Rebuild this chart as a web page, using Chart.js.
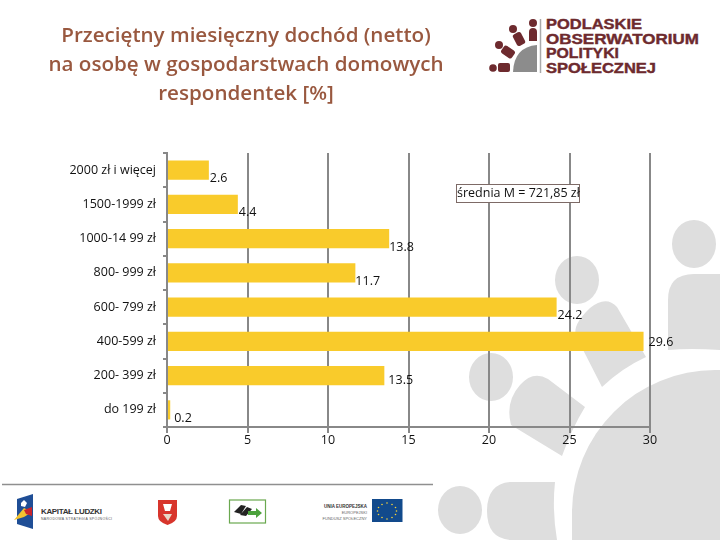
<!DOCTYPE html>
<html lang="pl">
<head>
<meta charset="utf-8">
<title>Przeciętny miesięczny dochód</title>
<script src="https://cdn.jsdelivr.net/npm/chart.js@4"></script>
<style>
  html, body { margin: 0; padding: 0; background: #fff; }
  #page { position: relative; width: 720px; height: 540px; overflow: hidden; font-family: "Open Sans", sans-serif; }
  #decor, #wrap { position: absolute; left: 0; top: 0; width: 720px; height: 540px; }
  #title { position: absolute; left: 16px; top: 20px; width: 460px; text-align: center; font-family: "Open Sans", sans-serif;
           font-size: 20.6px; font-weight: 600; line-height: 29px; color: #99583f; white-space: nowrap; }
  #note { position: absolute; left: 456px; top: 184px; width: 122px; height: 17px; border: 1px solid #7d6a66; background: #fff;
          font-size: 12.5px; line-height: 16px; text-align: center; color: #111; white-space: nowrap; }
</style>
</head>
<body>
<div id="page">
  <svg id="decor" viewBox="0 0 720 540" xmlns="http://www.w3.org/2000/svg">
    <!-- znak wodny -->
    <g fill="#dedede">
      <ellipse cx="577" cy="280" rx="22" ry="24"/>
      <ellipse cx="694" cy="244" rx="22" ry="24"/>
      <ellipse cx="491" cy="377" rx="22" ry="24"/>
      <ellipse cx="460" cy="510" rx="22" ry="24"/>
      <circle cx="715" cy="513" r="143"/>
      <rect x="572" y="513" width="148" height="27"/>
      <path d="M668 350 V300 Q668 274 694 274 H720 V350 Q690 348 668 350Z"/>
      <path d="M576 336 Q572 325 590 308 Q606 295 617 307 L646 357 Q622 368 602 387Z"/>
      <path d="M511 425 Q505 402 520 385 Q533 370 548 379 L585 407 Q572 428 562 456Z"/>
      <path d="M555 482 H510 Q487 484 487 511 Q487 538 510 540 H557 Q552 510 555 482Z"/>
    </g>
    <!-- logo obserwatorium -->
    <g fill="#6d2a2e">
      <circle cx="533" cy="23" r="4"/>
      <path d="M529 41 V32 Q529 28 533 28 Q537 28 537 32 V41Z"/>
      <circle cx="513" cy="29" r="4"/>
      <rect x="514.5" y="32.5" width="9" height="13" rx="2.5" transform="rotate(-28 519 39)"/>
      <circle cx="499" cy="45" r="4"/>
      <rect x="503.5" y="45.5" width="9" height="13" rx="2.5" transform="rotate(-55 508 52)"/>
      <circle cx="493" cy="68" r="3.8"/>
      <rect x="498" y="63" width="12" height="9" rx="2"/>
    </g>
    <path d="M513 72 Q514 47 537 45 V72Z" fill="#8c8c8c"/>
    <line x1="540.5" y1="19" x2="540.5" y2="73" stroke="#aaa" stroke-width="1.5"/>
    <g fill="#6d2a2e" font-family="'Liberation Sans'" font-weight="700" font-size="14" stroke="#6d2a2e" stroke-width=".4">
      <text x="546" y="29" textLength="96" lengthAdjust="spacingAndGlyphs">PODLASKIE</text>
      <text x="546" y="44" textLength="153" lengthAdjust="spacingAndGlyphs">OBSERWATORIUM</text>
      <text x="546" y="58" textLength="73" lengthAdjust="spacingAndGlyphs">POLITYKI</text>
      <text x="546" y="73" textLength="110" lengthAdjust="spacingAndGlyphs">SPOŁECZNEJ</text>
    </g>
    <!-- stopka -->
    <line x1="2" y1="484.5" x2="433" y2="484.5" stroke="#8f8f8f" stroke-width="1.5"/>
    <path d="M17 499 L33 494 V529 L17 524Z" fill="#1f4e96"/>
    <path d="M14 520 L24 508 L32 512 L24 517 Z" fill="#f2c230"/>
    <path d="M24 510 L32 507 V516 L26 514Z" fill="#c8252c"/>
    <path d="M21 503 L24 500 L27 503 L25 507 L21 506Z" fill="#fff"/>
    <text x="41" y="514" font-family="'Liberation Sans'" font-size="8" font-weight="700" fill="#333" textLength="61">KAPITAŁ LUDZKI</text>
    <text x="41" y="520" font-family="'Liberation Sans'" font-size="3.5" fill="#555" textLength="71">NARODOWA STRATEGIA SPÓJNOŚCI</text>
    <path d="M158 500 H177 V516 Q177 522 167.5 525 Q158 522 158 516Z" fill="#d8352c"/>
    <path d="M163 504 H172 L170 511 H165Z" fill="#fff"/>
    <path d="M163 514 H172 L168 521Z" fill="#e8d8c8"/>
    <rect x="229.5" y="500" width="36" height="23" fill="#fff" stroke="#6aa84f" stroke-width="1.2"/>
    <path d="M234 512 L241 505 L246 506 L241 514Z M240 515 L247 507 L252 509 L246 516Z" fill="#222"/>
    <path d="M248 511 H256 V508 L262 513 L256 518 V515 H248Z" fill="#4ca23c"/>
    <g font-family="'Liberation Sans'" text-anchor="end">
      <text x="367" y="508" font-size="4.5" font-weight="700" fill="#333">UNIA EUROPEJSKA</text>
      <text x="367" y="514" font-size="4" fill="#666">EUROPEJSKI</text>
      <text x="367" y="520" font-size="4" fill="#666">FUNDUSZ SPOŁECZNY</text>
    </g>
    <rect x="372" y="499" width="30.5" height="23" fill="#124a8c"/>
    <g fill="#f5d33c">
      <circle cx="387" cy="503" r=".8"/><circle cx="392" cy="504.5" r=".8"/><circle cx="395.5" cy="507.5" r=".8"/>
      <circle cx="396.5" cy="511" r=".8"/><circle cx="395.5" cy="514.5" r=".8"/><circle cx="392" cy="517.5" r=".8"/>
      <circle cx="387" cy="519" r=".8"/><circle cx="382" cy="517.5" r=".8"/><circle cx="378.5" cy="514.5" r=".8"/>
      <circle cx="377.5" cy="511" r=".8"/><circle cx="378.5" cy="507.5" r=".8"/><circle cx="382" cy="504.5" r=".8"/>
    </g>
  </svg>
  <div id="wrap"><canvas id="chartDochod" width="720" height="540"></canvas></div>
  <div id="title">Przeciętny miesięczny dochód (netto)<br>na osobę w gospodarstwach domowych<br>respondentek [%]</div>
  <div id="note">średnia M = 721,85 zł</div>
</div>
<script>
// dane
const categories = ['2000 zł i więcej', '1500-1999 zł', '1000-14 99 zł', '800- 999 zł', '600- 799 zł', '400-599 zł', '200- 399 zł', 'do 199 zł'];
const values = [2.6, 4.4, 13.8, 11.7, 24.2, 29.6, 13.5, 0.2];
const xTicks = [0, 5, 10, 15, 20, 25, 30];
// przesuniecia etykiet wartosci [dx, dy], jak w oryginale
const labelNudge = [[1, 8], [1, 8], [0, 9], [0, 9], [1, 8], [5, 1], [4, 5], [4, 9]];

const gridColor = '#888888';

const barLabels = {
  id: 'barLabels',
  afterDatasetsDraw(chart) {
    const ctx = chart.ctx;
    const bars = chart.getDatasetMeta(0).data;
    ctx.save();
    ctx.font = '12.5px "Open Sans"';
    ctx.fillStyle = '#111';
    ctx.textAlign = 'left';
    ctx.textBaseline = 'middle';
    bars.forEach(function (bar, i) {
      ctx.fillText(values[i].toFixed(1), bar.x + labelNudge[i][0], bar.y + labelNudge[i][1]);
    });
    ctx.restore();
  }
};

new Chart(document.getElementById('chartDochod'), {
  type: 'bar',
  data: {
    labels: categories,
    datasets: [{
      data: values,
      backgroundColor: '#f9cb2b',
      categoryPercentage: 1,
      barPercentage: 0.56
    }]
  },
  options: {
    indexAxis: 'y',
    responsive: false,
    animation: false,
    layout: { padding: { top: 153, right: 70 } },
    plugins: { legend: { display: false }, tooltip: { enabled: false } },
    scales: {
      x: {
        min: 0,
        max: 30,
        afterBuildTicks(scale) { scale.ticks = xTicks.map(function (v) { return { value: v }; }); },
        afterFit(scale) { scale.height = 113; },
        grid: { color: gridColor, lineWidth: 2, tickLength: 6 },
        border: { color: gridColor, width: 2 },
        ticks: { color: '#111', padding: 0, maxRotation: 0, font: { family: 'Open Sans', size: 12.5 } }
      },
      y: {
        afterFit(scale) { scale.width = 167; },
        grid: { color: gridColor, lineWidth: 2, tickLength: 4, drawOnChartArea: false },
        border: { color: gridColor, width: 2 },
        ticks: { color: '#111', padding: 7, autoSkip: false, font: { family: 'Open Sans', size: 12.5 } }
      }
    }
  },
  plugins: [barLabels]
});
</script>
</body>
</html>
